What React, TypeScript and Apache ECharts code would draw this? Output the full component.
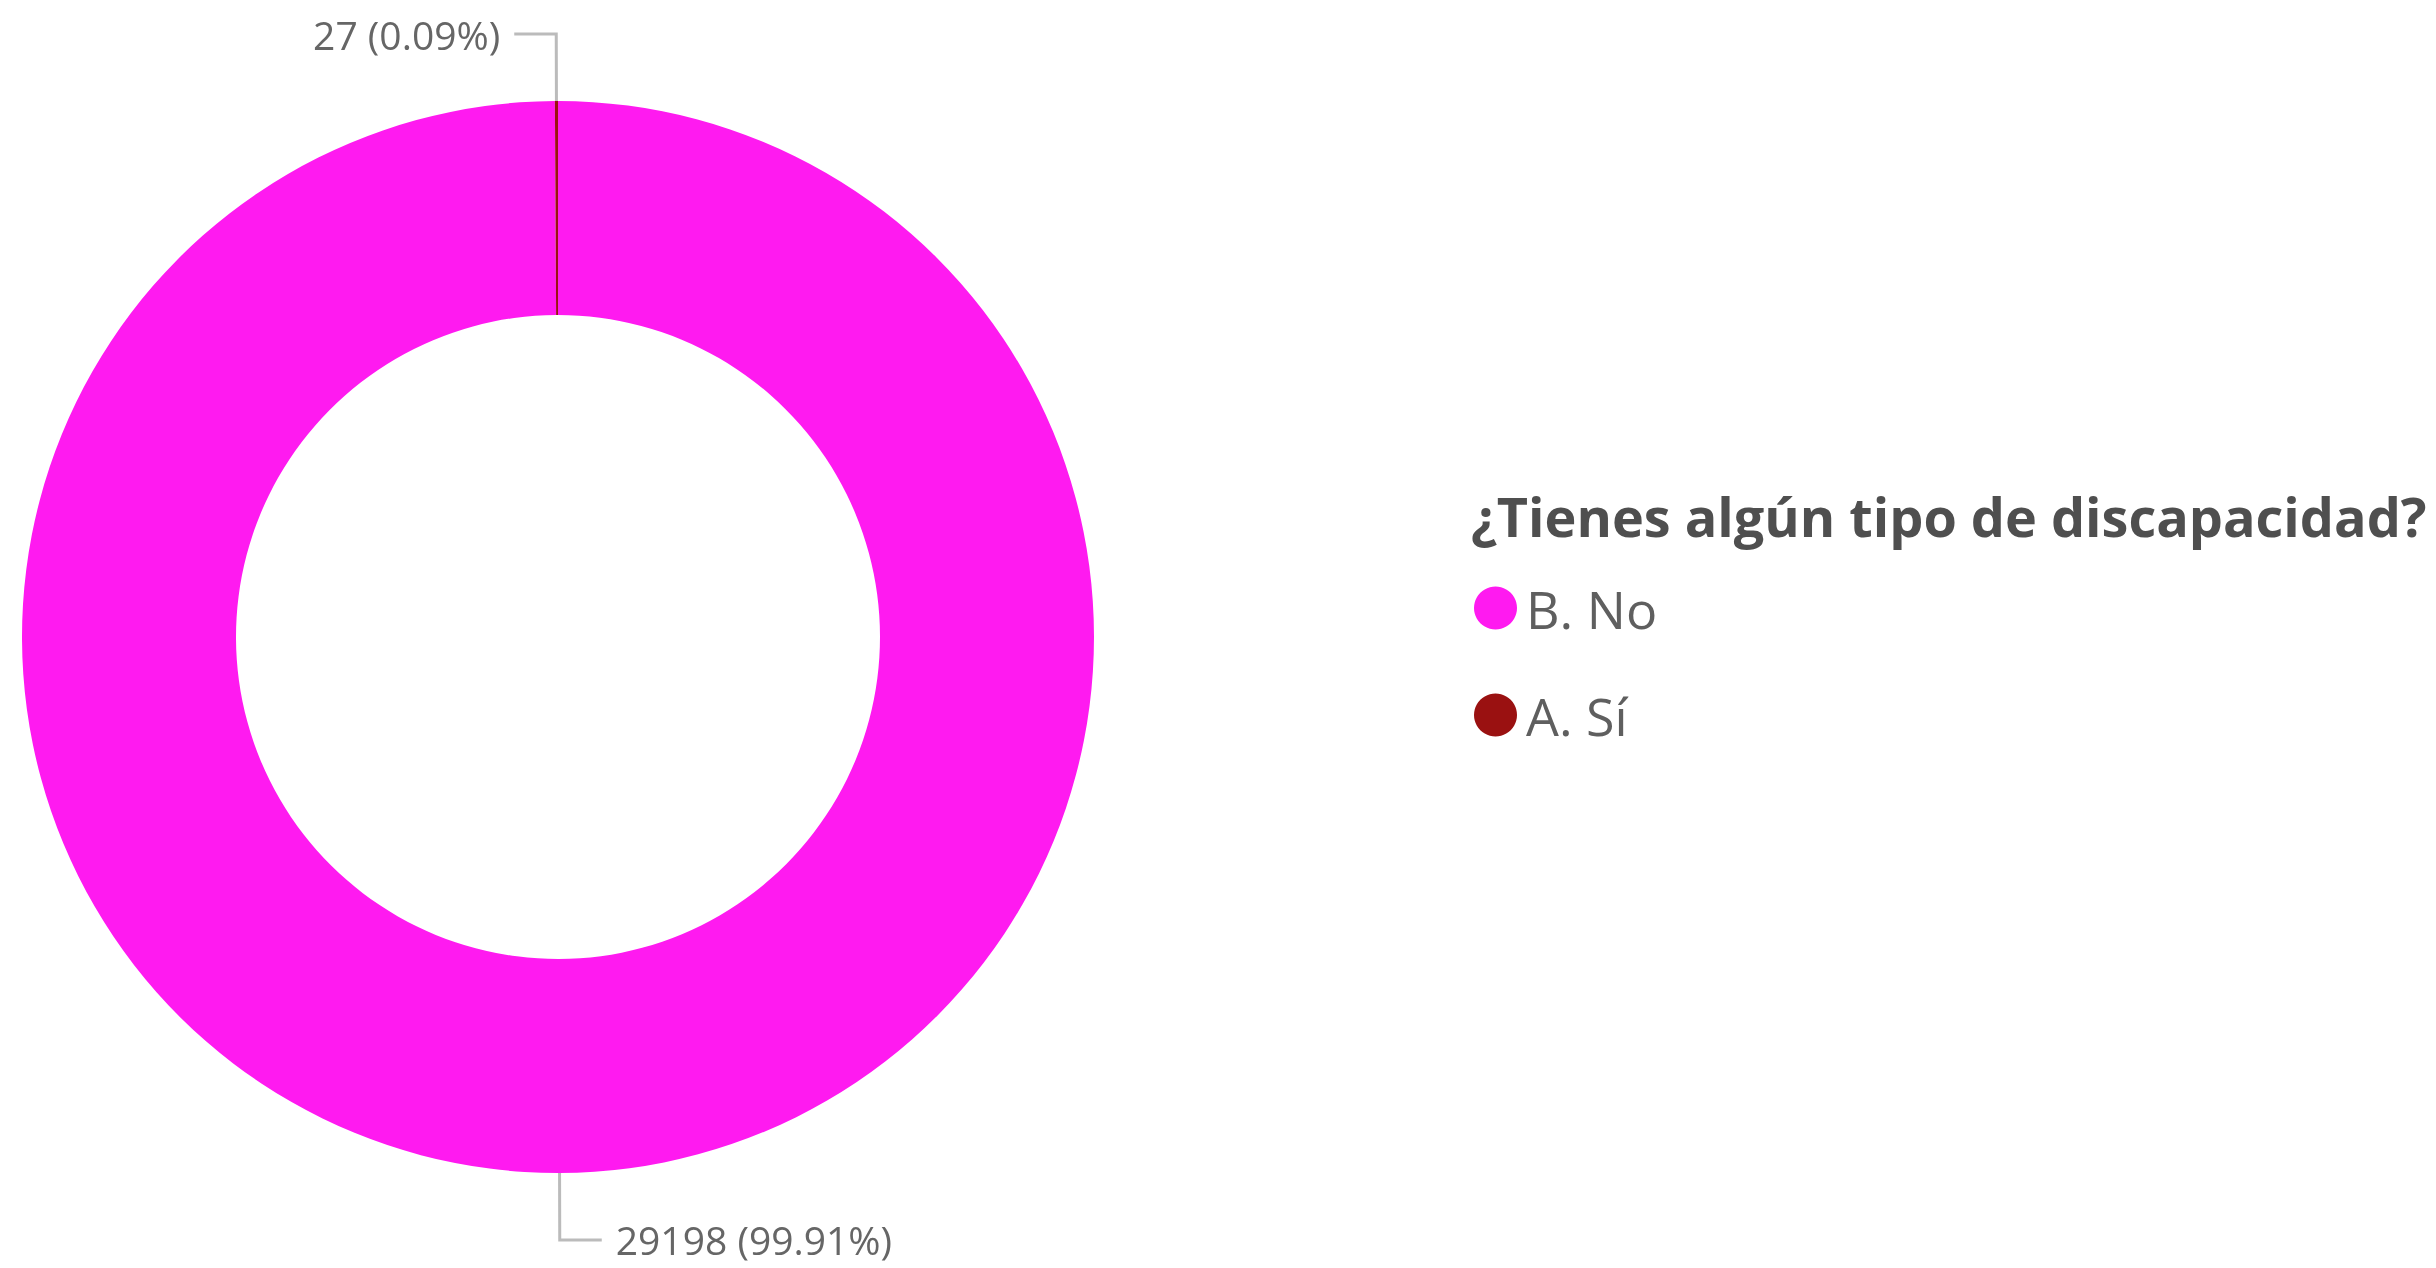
import React, { useEffect, useRef } from "react";
import * as echarts from "echarts";

const categories = ["B. No", "A. Sí"];
const values = [29198, 27];
const colors = ["#FF1AF0", "#9A1111"];
const legendTitle = "¿Tienes algún tipo de discapacidad?";

export default function App() {
  const ref = useRef<HTMLDivElement>(null);
  useEffect(() => {
    document.body.style.margin = "0";
    const chart = echarts.init(ref.current!, null, { renderer: "svg" });
    chart.setOption({
      animation: false,
      title: {
        text: legendTitle,
        left: 1466,
        top: 484,
        textStyle: {
          fontFamily: "Open Sans",
          fontWeight: "bold",
          fontSize: 54,
          color: "#4f4f4f",
        },
      },
      legend: {
        orient: "vertical",
        left: 1469,
        top: 575,
        icon: "circle",
        itemWidth: 43,
        itemHeight: 43,
        itemGap: 51,
        data: categories,
        textStyle: {
          fontFamily: "Open Sans",
          fontSize: 52,
          lineHeight: 56,
          color: "#5f5f5f",
          padding: [0, 0, 0, 4],
        },
      },
      series: [
        {
          type: "pie",
          center: [558, 637],
          radius: [322, 536],
          startAngle: 90,
          clockwise: true,
          avoidLabelOverlap: false,
          data: categories.map((c, i) => ({
            name: c,
            value: values[i],
            itemStyle: { color: colors[i] },
          })),
          label: {
            show: true,
            formatter: "{c} ({d}%)",
            fontFamily: "Open Sans",
            fontSize: 39,
            color: "#666666",
            distanceToLabelLine: 14,
          },
          labelLine: {
            show: true,
            length: 67,
            length2: 42,
            lineStyle: { color: "#bbbbbb", width: 3 },
          },
          emphasis: { disabled: true },
        },
      ],
    });
    return () => chart.dispose();
  }, []);
  return (
    <div
      ref={ref}
      style={{ position: "fixed", left: 0, top: 0, width: 2436, height: 1268 }}
    />
  );
}
